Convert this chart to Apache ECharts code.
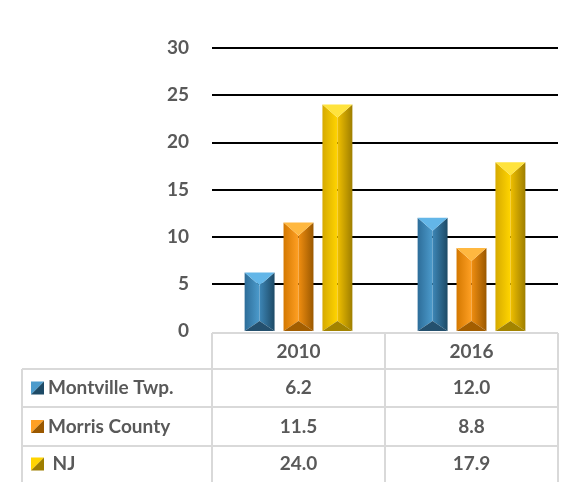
<!DOCTYPE html>
<html><head><meta charset="utf-8">
<script src="https://cdn.jsdelivr.net/npm/echarts@6/dist/echarts.min.js"></script>
<style>html,body{margin:0;padding:0;background:#fff}#c{width:564px;height:482px}</style>
</head><body><div id="c"></div>
<script>
const categories = ['2010', '2016'];
const seriesNames = ['Montville Twp.', 'Morris County', ' NJ'];
const montville = [6.2, 12.0];
const morris = [11.5, 8.8];
const nj = [24.0, 17.9];
const yTicks = [0, 5, 10, 15, 20, 25, 30];

const values = [montville, morris, nj];
const palettes = [
  {top:'#63b6e8', l0:'#2d6d99', l1:'#4c9bcc', r0:'#3d86b6', r1:'#1d4a66', bot:'#24506e'},
  {top:'#ffb840', l0:'#d47800', l1:'#ffa024', r0:'#f08e10', r1:'#9a5800', bot:'#a35e00'},
  {top:'#ffe33d', l0:'#d6aa00', l1:'#ffd400', r0:'#f0c000', r1:'#9e7e00', bot:'#a38400'}
];
const FONT = 'Lato';
const FS = 19;
const TXT = '#595959';
const GRID_L = 212, GRID_R = 558, BASE = 331;

function renderBevel(si) {
  return function (params, api) {
    const cat = api.value(0), val = api.value(1);
    const p0 = api.coord([cat, 0]);
    const p1 = api.coord([cat, val]);
    const band = api.size([1, 0])[0];
    const bw = band * 0.173, gap = bw * 0.3;
    const total = 3 * bw + 2 * gap;
    const x0 = p0[0] - total / 2 + si * (bw + gap);
    const x1 = x0 + bw, xc = (x0 + x1) / 2;
    const y0 = p1[1], y1 = p0[1];
    const b = Math.min(13, (y1 - y0) / 2);
    const bb = Math.min(10, (y1 - y0) / 2);
    const c = palettes[si];
    const lg = (a, z) => ({type:'linear', x:0, y:0, x2:1, y2:0, colorStops:[{offset:0,color:a},{offset:1,color:z}]});
    return {
      type: 'group',
      children: [
        {type:'polygon', shape:{points:[[x0,y0],[xc,y0+b],[xc,y1-bb],[x0,y1]]}, style:{fill: lg(c.l0, c.l1)}},
        {type:'polygon', shape:{points:[[xc,y0+b],[x1,y0],[x1,y1],[xc,y1-bb]]}, style:{fill: lg(c.r0, c.r1)}},
        {type:'polygon', shape:{points:[[x0,y0],[x1,y0],[xc,y0+b]]}, style:{fill: c.top}},
        {type:'polygon', shape:{points:[[x0,y1],[xc,y1-bb],[x1,y1]]}, style:{fill: c.bot}}
      ]
    };
  };
}

const series = values.map((arr, si) => ({
  type: 'custom',
  name: seriesNames[si],
  renderItem: renderBevel(si),
  encode: {x: 0, y: 1},
  data: arr.map((v, i) => [i, v]),
  z: 3
}));

const chart = echarts.init(document.getElementById('c'), null, {renderer: 'canvas'});
chart.setOption({
  animation: false,
  grid: {left: GRID_L, right: 564 - GRID_R, top: 48, bottom: 482 - BASE, containLabel: false},
  xAxis: {
    type: 'category', data: categories,
    axisLine: {show: false}, axisTick: {show: false},
    axisLabel: {margin: 11, fontFamily: FONT, fontWeight: 'bold', fontSize: FS, color: TXT, lineHeight: 19}
  },
  yAxis: {
    type: 'value', min: 0, max: 30, interval: 5,
    axisLine: {show: false}, axisTick: {show: false},
    axisLabel: {margin: 23, fontFamily: FONT, fontWeight: 'bold', fontSize: FS, color: TXT},
    splitLine: {lineStyle: {color: yTicks.map(t => t === 0 ? 'rgba(0,0,0,0)' : '#000'), width: 2}}
  },
  series: series
});

// data table below the chart
const colX = categories.map((_, i) => chart.convertToPixel({xAxisIndex: 0}, i));
const border = '#d9d9d9';
const HEAD_T = 333, ROW_T = [369, 407, 446], ROW_B = 484, LEFT = 22;
const g = [];
function line(x1, y1, x2, y2) {
  g.push({type:'line', shape:{x1, y1, x2, y2}, style:{stroke: border, lineWidth: 2}, silent: true});
}
line(GRID_L, HEAD_T, GRID_R, HEAD_T);
ROW_T.forEach(y => line(LEFT, y, GRID_R, y));
line(GRID_L, HEAD_T, GRID_L, ROW_B);
line((colX[0] + colX[1]) / 2, HEAD_T, (colX[0] + colX[1]) / 2, ROW_B);
line(GRID_R, HEAD_T, GRID_R, ROW_B);
line(LEFT, ROW_T[0], LEFT, ROW_B);

seriesNames.forEach((name, si) => {
  const yc = si < 2 ? (ROW_T[si] + ROW_T[si + 1]) / 2 : (ROW_T[2] + 482) / 2;
  const c = palettes[si];
  const kx = 31, ky = yc - 6.5, ks = 13;
  g.push({type:'polygon', shape:{points:[[kx,ky],[kx+ks,ky],[kx,ky+ks]]}, style:{fill: c.l1}});
  g.push({type:'polygon', shape:{points:[[kx+ks,ky],[kx+ks,ky+ks],[kx,ky+ks]]}, style:{fill: c.r1}});
  g.push({type:'text', x: 48, y: yc, style:{text: name, fill: TXT, font: 'bold ' + FS + 'px ' + FONT, verticalAlign: 'middle', align: 'left'}});
  values[si].forEach((v, ci) => {
    g.push({type:'text', x: colX[ci], y: yc, style:{text: v.toFixed(1), fill: TXT, font: 'bold ' + FS + 'px ' + FONT, verticalAlign: 'middle', align: 'center'}});
  });
});
chart.setOption({graphic: {elements: g}});
</script>
</body></html>
